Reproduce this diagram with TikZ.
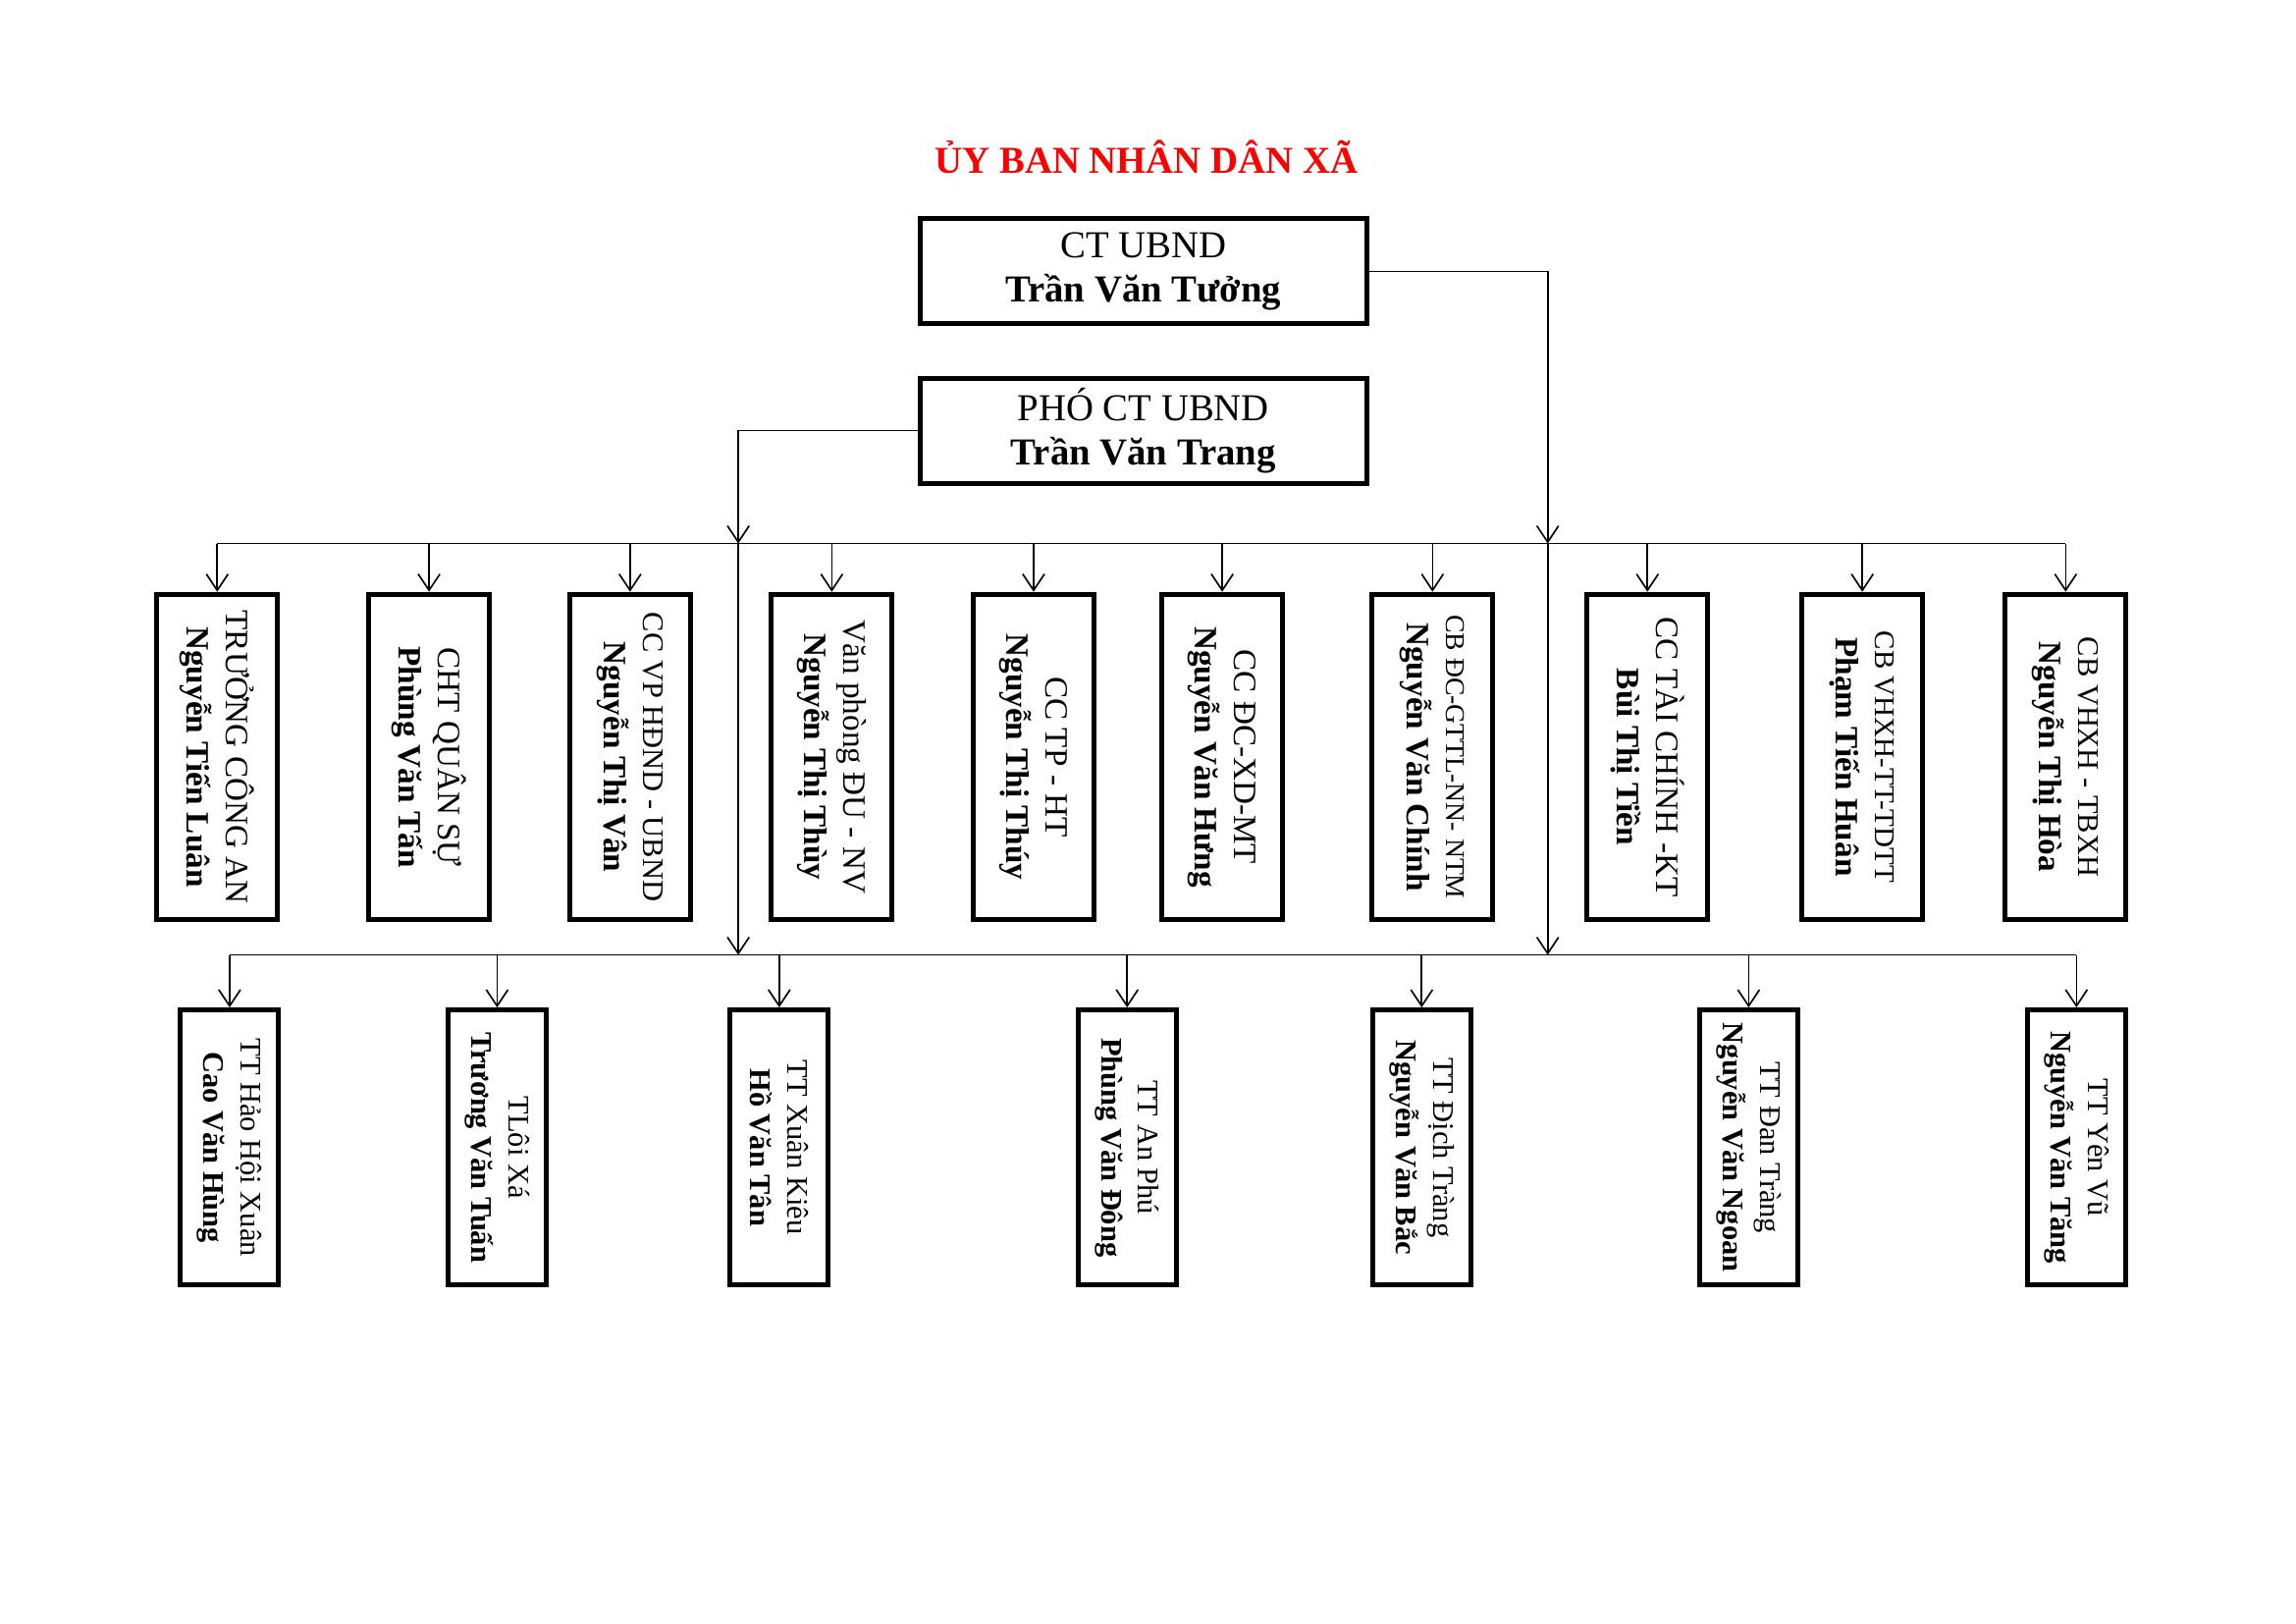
\documentclass[tikz,border=0pt]{standalone}
\usepackage{fontspec}
\setmainfont{Liberation Serif}
\usetikzlibrary{arrows.meta}

\begin{document}
\begin{tikzpicture}[>={Straight Barb[length=6pt,width=8pt]}, line width=0.6pt,
    headbox/.style={draw, line width=1.8pt, minimum width=5.78cm, minimum height=1.36cm, inner sep=0pt, align=center, font=\fontsize{14}{16.2}\selectfont},
    staffbox/.style={draw, rotate=-90, line width=1.8pt, minimum width=4.21cm, minimum height=1.56cm, inner sep=0pt, align=center, font=\fontsize{12}{14.5}\selectfont},
    villbox/.style={draw, rotate=-90, line width=1.8pt, minimum width=3.56cm, minimum height=1.27cm, inner sep=0pt, align=center, font=\fontsize{11}{13.7}\selectfont}]
    \useasboundingbox (0,0) rectangle (29.7,21.0);
    \node[text=red, font=\fontsize{14}{16}\selectfont\bfseries] (title) at (14.83,18.97) {ỦY BAN NHÂN DÂN XÃ};
    \node[headbox] (ct) at (14.79,17.49) {CT UBND\\\textbf{Trần Văn Tưởng}};
    \node[headbox] (pho) at (14.79,15.43) {PHÓ CT UBND\\\textbf{Trần Văn Trang}};

    \node[staffbox] (t1) at (2.81,11.21) {TRƯỞNG CÔNG AN\\\textbf{Nguyễn Tiến Luân}};
    \node[staffbox] (t2) at (5.55,11.21) {CHT QUÂN SỰ\\\textbf{Phùng Văn Tấn}};
    \node[staffbox] (t3) at (8.15,11.21) {{\fontsize{11}{14.5}\selectfont CC VP HĐND - UBND}\\\textbf{Nguyễn Thị Vân}};
    \node[staffbox] (t4) at (10.76,11.21) {Văn phòng ĐU - NV\\\textbf{Nguyễn Thị Thùy}};
    \node[staffbox] (t5) at (13.37,11.21) {CC TP - HT\\\textbf{Nguyễn Thị Thúy}};
    \node[staffbox] (t6) at (15.81,11.21) {CC ĐC-XD-MT\\\textbf{Nguyễn Văn Hưng}};
    \node[staffbox] (t7) at (18.53,11.21) {{\fontsize{10}{14.5}\selectfont CB ĐC-GTTL-NN- NTM}\\\textbf{Nguyễn Văn Chính}};
    \node[staffbox] (t8) at (21.31,11.21) {CC TÀI CHÍNH -KT\\\textbf{Bùi Thị Tiền}};
    \node[staffbox] (t9) at (24.09,11.21) {{\fontsize{10.5}{14.5}\selectfont CB VHXH-TT-TDTT}\\\textbf{Phạm Tiến Huân}};
    \node[staffbox] (t10) at (26.72,11.21) {{\fontsize{11}{14.5}\selectfont CB VHXH - TBXH}\\\textbf{Nguyễn Thị Hòa}};

    \node[villbox] (v1) at (2.97,6.16) {TT Hảo Hội Xuân\\\textbf{Cao Văn Hùng}};
    \node[villbox] (v2) at (6.43,6.16) {TLôi Xá\\\textbf{Trương Văn Tuấn}};
    \node[villbox] (v3) at (10.08,6.16) {TT Xuân Kiêu\\\textbf{Hồ Văn Tân}};
    \node[villbox] (v4) at (14.58,6.16) {TT An Phú\\\textbf{Phùng Văn Đông}};
    \node[villbox] (v5) at (18.39,6.16) {TT Địch Tràng\\\textbf{Nguyễn Văn Bắc}};
    \node[villbox] (v6) at (22.62,6.16) {TT Đan Tràng\\\textbf{Nguyễn Văn Ngoan}};
    \node[villbox] (v7) at (26.86,6.16) {TT Yên Vũ\\\textbf{Nguyễn Văn Tăng}};

    \coordinate (topbus) at (0,13.97);
    \coordinate (lowbus) at (0,8.65);
    \coordinate (dropA) at (9.55,13.97);
    \coordinate (dropA2) at (9.55,8.65);
    \coordinate (dropB) at (20.02,13.97);
    \coordinate (dropB2) at (20.02,8.65);

    \draw (t1.west |- topbus) -- (t10.west |- topbus);
    \foreach \n in {t1,t2,t3,t4,t5,t6,t7,t8,t9,t10} \draw[->] (\n.west |- topbus) -- (\n.west);
    \draw (v1.west |- lowbus) -- (v7.west |- lowbus);
    \foreach \n in {v1,v2,v3,v4,v5,v6,v7} \draw[->] (\n.west |- lowbus) -- (\n.west);

    \draw[->] (pho.west) -| (dropA);
    \draw[->] (dropA) -- (dropA2);
    \draw[->] (ct.east) -| (dropB);
    \draw[->] (dropB) -- (dropB2);
\end{tikzpicture}
\end{document}
